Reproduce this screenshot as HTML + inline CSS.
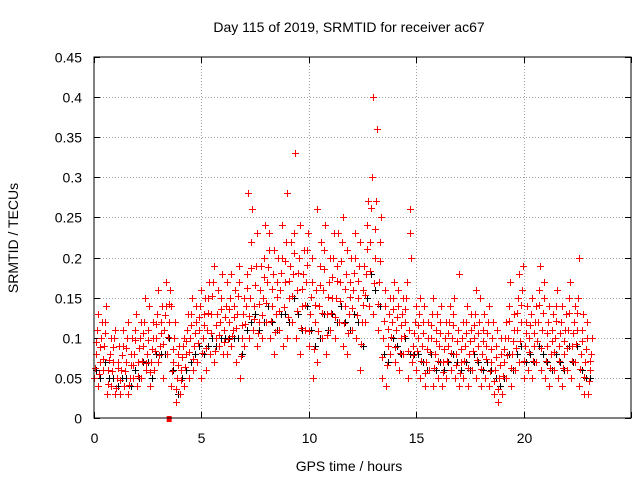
<!DOCTYPE html>
<html><head><meta charset="utf-8"><style>
html,body{margin:0;padding:0;background:#fff}
svg text{font-family:"Liberation Sans",sans-serif;font-size:14px;fill:#000}
.rp{stroke:#ff0000;stroke-width:1;fill:none}
.bp{stroke:#000000;stroke-width:1;fill:none}
</style></head><body>
<svg id="chart" width="640" height="480" xmlns="http://www.w3.org/2000/svg">
<text x="349" y="32" text-anchor="middle">Day 115 of 2019, SRMTID for receiver ac67</text>
<text x="349" y="471" text-anchor="middle">GPS time / hours</text>
<text transform="translate(18,238) rotate(-90)" text-anchor="middle">SRMTID / TECUs</text>
<g id="grid"></g>
<g id="ticks"></g>
<g id="blackmarks"></g>
<g id="marks"></g>
<rect x="94" y="57" width="537" height="361" fill="none" stroke="#000" stroke-width="1"/>
</svg>
<script>
const xTicks=[0,5,10,15,20,25];
const xTickLabels=["0","5","10","15","20",""];
const yTicks=[0,0.05,0.1,0.15,0.2,0.25,0.3,0.35,0.4,0.45];
const yTickLabels=["0","0.05","0.1","0.15","0.2","0.25","0.3","0.35","0.4","0.45"];
const times=[0,0.2,0.4,0.6,0.8,1,1.2,1.4,1.6,1.8,2,2.2,2.4,2.6,2.8,3,3.2,3.4,3.6,3.8,4,4.2,4.4,4.6,4.8,5,5.2,5.4,5.6,5.8,6,6.2,6.4,6.6,6.8,7,7.2,7.4,7.6,7.8,8,8.2,8.4,8.6,8.8,9,9.2,9.4,9.6,9.8,10,10.2,10.4,10.6,10.8,11,11.2,11.4,11.6,11.8,12,12.2,12.4,12.6,12.8,13,13.2,13.4,13.6,13.8,14,14.2,14.4,14.6,14.8,15,15.2,15.4,15.6,15.8,16,16.2,16.4,16.6,16.8,17,17.2,17.4,17.6,17.8,18,18.2,18.4,18.6,18.8,19,19.2,19.4,19.6,19.8,20,20.2,20.4,20.6,20.8,21,21.2,21.4,21.6,21.8,22,22.2,22.4,22.6,22.8,23];
const redA=[.05,.04,.06,.03,.04,.03,.03,.04,.03,.05,.04,.05,.06,.04,.06,.07,.05,.08,.04,.02,.03,.04,.05,.06,.07,.05,.06,.08,.07,.09,.08,.08,.09,.07,.05,.09,.10,.11,.09,.10,.12,.10,.08,.11,.09,.10,.12,.10,.08,.11,.09,.05,.07,.10,.08,.11,.10,.12,.09,.08,.11,.10,.06,.12,.14,.13,.11,.05,.04,.08,.07,.06,.08,.05,.07,.06,.05,.04,.06,.04,.05,.04,.05,.06,.05,.04,.05,.04,.06,.05,.04,.05,.04,.03,.02,.03,.05,.04,.06,.07,.05,.06,.05,.07,.06,.05,.04,.06,.05,.04,.06,.05,.07,.04,.03,.03];
const redE=[.062,.055,.074,.043,.058,.038,.047,.058,.041,.066,.052,.071,.068,.057,.083,.078,.092,.101,.058,.036,.047,.063,.082,.074,.093,.081,.087,.106,.084,.103,.095,.098,.102,.112,.077,.117,.127,.124,.106,.128,.143,.121,.107,.134,.138,.126,.152,.133,.112,.141,.108,.086,.108,.131,.104,.131,.126,.146,.118,.106,.137,.128,.092,.153,.183,.168,.142,.076,.066,.101,.088,.081,.102,.083,.079,.083,.071,.056,.082,.062,.071,.057,.071,.081,.066,.056,.071,.062,.083,.072,.061,.073,.058,.046,.036,.052,.078,.062,.087,.096,.071,.082,.071,.096,.087,.071,.062,.082,.071,.062,.087,.071,.092,.061,.051,.046];
const redB=[.08,.07,.09,.06,.07,.05,.06,.07,.05,.08,.07,.09,.08,.07,.10,.09,.11,.12,.07,.05,.06,.08,.10,.09,.11,.10,.11,.13,.10,.12,.11,.12,.11,.13,.10,.14,.15,.14,.12,.15,.17,.14,.13,.16,.17,.15,.18,.16,.14,.17,.13,.12,.14,.16,.13,.15,.15,.17,.14,.13,.16,.15,.12,.18,.22,.20,.17,.10,.09,.12,.11,.10,.12,.11,.09,.10,.09,.07,.10,.08,.09,.07,.09,.10,.08,.07,.09,.08,.10,.09,.08,.09,.07,.06,.05,.07,.10,.08,.11,.12,.09,.10,.09,.12,.11,.09,.08,.10,.09,.08,.11,.09,.11,.08,.07,.06];
const redF=[.095,.088,.106,.072,.088,.062,.078,.087,.066,.097,.087,.106,.097,.086,.117,.106,.128,.142,.086,.066,.076,.096,.116,.106,.126,.116,.131,.152,.116,.136,.126,.136,.126,.152,.116,.162,.187,.166,.142,.176,.188,.161,.151,.181,.196,.171,.206,.181,.161,.191,.151,.141,.166,.186,.151,.176,.171,.196,.161,.151,.181,.171,.141,.211,.262,.236,.196,.121,.111,.136,.126,.116,.136,.231,.106,.116,.106,.086,.116,.096,.106,.086,.106,.116,.096,.086,.106,.096,.116,.106,.096,.106,.086,.076,.066,.086,.121,.096,.131,.141,.106,.116,.106,.141,.131,.106,.096,.121,.106,.096,.131,.106,.131,.096,.086,.071];
const redC=[.11,.10,.12,.08,.10,.07,.09,.10,.08,.11,.10,.12,.11,.10,.13,.12,.14,.16,.10,.08,.09,.11,.13,.12,.14,.13,.15,.17,.13,.15,.14,.15,.14,.17,.13,.18,.22,.19,.16,.20,.21,.18,.17,.20,.22,.19,.23,.20,.18,.21,.17,.16,.19,.21,.17,.20,.19,.22,.18,.17,.20,.19,.16,.24,.30,.27,.22,.14,.13,.15,.14,.13,.15,.26,.12,.13,.12,.10,.13,.11,.12,.10,.12,.13,.11,.10,.12,.11,.13,.12,.11,.12,.10,.09,.08,.10,.14,.11,.15,.16,.12,.13,.12,.16,.15,.12,.11,.14,.12,.11,.15,.12,.15,.11,.10,.08];
const redD=[.13,.12,.14,.10,.11,.09,.11,.12,.10,.13,.12,.15,.14,.12,.16,.14,.17,.14,.12,.09,.10,.13,.15,.14,.16,.15,.17,.19,.16,.18,.17,.18,.16,.19,.15,.28,.26,.23,.19,.24,.23,.21,.20,.24,.28,.22,.33,.24,.21,.23,.20,.26,.22,.24,.20,.23,.23,.25,.21,.20,.23,.22,.19,.27,.40,.36,.25,.16,.15,.17,.16,.15,.17,.20,.14,.15,.14,.12,.15,.13,.14,.12,.14,.15,.18,.12,.14,.13,.16,.15,.13,.14,.12,.11,.10,.12,.17,.13,.18,.19,.14,.15,.14,.19,.17,.14,.13,.16,.14,.13,.17,.14,.20,.13,.12,.10];
const black=[.06,.05,.07,.05,.05,.04,.05,.05,.04,.06,.05,.07,.07,.05,.08,.08,.08,.10,.06,.03,.05,.06,.07,.08,.09,.08,.09,.10,.09,.10,.10,.10,.10,.10,.08,.11,.12,.13,.11,.12,.14,.12,.11,.13,.13,.12,.15,.13,.11,.14,.11,.09,.10,.13,.11,.13,.12,.14,.12,.11,.13,.12,.09,.15,.18,.16,.14,.08,.07,.10,.09,.08,.10,.08,.08,.08,.07,.06,.08,.06,.07,.06,.07,.08,.07,.06,.07,.06,.08,.07,.06,.07,.06,.05,.04,.05,.08,.06,.08,.09,.07,.08,.07,.09,.08,.07,.06,.08,.07,.06,.09,.07,.09,.06,.05,.05];

const NS='http://www.w3.org/2000/svg';
const X0=94,X1=631,Y0=418,Y1=57,XMAX=25,YMAX=0.45;
function xs(t){return X0+(t/XMAX)*(X1-X0);}
function ys(v){return Y0-(v/YMAX)*(Y0-Y1);}
function mk(tag,parent){const e=document.createElementNS(NS,tag);parent.appendChild(e);return e;}
const grid=document.getElementById('grid'),ticks=document.getElementById('ticks'),marks=document.getElementById('marks'),bmarks=document.getElementById('blackmarks');
xTicks.forEach((t,i)=>{
  const x=Math.round(xs(t))+0.5;
  if(t>0&&t<XMAX){const g=mk('line',grid);
    
    
    g.setAttribute('x1',x);g.setAttribute('x2',x);g.setAttribute('y1',Y1);g.setAttribute('y2',Y0);
    g.setAttribute('stroke','#a0a0a0');g.setAttribute('stroke-dasharray','1,2');}
  const tk=mk('path',ticks);
  
  
  tk.setAttribute('d',`M${x},${Y0}v-6M${x},${Y1}v6`);tk.setAttribute('stroke','#000');
  const lb=mk('text',ticks);
  
  
  lb.setAttribute('x',x);lb.setAttribute('y',443);lb.setAttribute('text-anchor','middle');lb.textContent=xTickLabels[i];
});
yTicks.forEach((v,i)=>{
  const y=Math.round(ys(v))+0.5;
  if(v>0&&v<YMAX){const g=mk('line',grid);
    
    
    g.setAttribute('x1',X0);g.setAttribute('x2',X1);g.setAttribute('y1',y);g.setAttribute('y2',y);
    g.setAttribute('stroke','#a0a0a0');g.setAttribute('stroke-dasharray','1,2');}
  const tk=mk('path',ticks);
  
  
  tk.setAttribute('d',`M${X0},${y}h6M${X1},${y}h-6`);tk.setAttribute('stroke','#000');
  const lb=mk('text',ticks);
  
  
  lb.setAttribute('x',82);lb.setAttribute('y',y+5);lb.setAttribute('text-anchor','end');lb.textContent=yTickLabels[i];
});
function plus(parent,t,v,cls,name){
  const x=Math.round(xs(t))+0.5,y=Math.round(ys(v))+0.5;
  const p=mk('path',parent);
  
  
  p.setAttribute('class',cls);
  p.setAttribute('stroke',cls==='rp'?'#ff0000':'#000000');
  p.setAttribute('d',`M${x-3.5},${y}h7M${x},${y-3.5}v7`);
}
times.forEach((t,i)=>plus(bmarks,t+0.1,black[i],'bp','black-point'));
const redSeries=[redA,redE,redB,redF,redC,redD];
const offsets=[0,0.03,0.07,0.1,0.13,0.17];
redSeries.forEach((s,k)=>times.forEach((t,i)=>plus(marks,t+offsets[k],s[i],'rp','red-point')));
const sq=mk('rect',marks);


sq.setAttribute('x',xs(3.5)-2.5);sq.setAttribute('y',Y0-2);sq.setAttribute('width',5);sq.setAttribute('height',6);sq.setAttribute('fill','#f00');
</script>
</body></html>
